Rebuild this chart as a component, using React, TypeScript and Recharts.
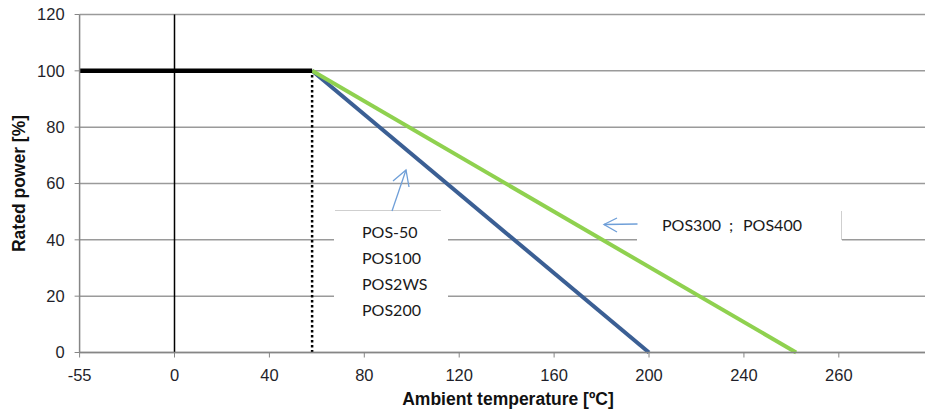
import {
  LineChart, Line, XAxis, YAxis, CartesianGrid, ReferenceLine, Customized,
} from 'recharts';

// category-style axis: labels sit at equal spacing, values in between are interpolated
const TICK_LABELS = [-55, 0, 40, 80, 120, 160, 200, 240, 260];
const Y_TICKS = [0, 20, 40, 60, 80, 100, 120];

const RATED_TEMPS = [-55, 58];
const RATED_POWER = [100, 100];
const SMALL_TEMPS = [58, 200];
const SMALL_POWER = [100, 0];
const LARGE_TEMPS = [58, 251];
const LARGE_POWER = [100, 0];
const KNEE_TEMP = 58;

const SMALL_MODELS = ['POS-50', 'POS100', 'POS2WS', 'POS200'];
const LARGE_MODELS = ['POS300', ';', 'POS400'];

const AXIS_GREY = '#868686';
const GRID_GREY = '#9a9a9a';
const BLUE = '#3b5f94';
const GREEN = '#8fd14f';
const ARROW = '#6f9fd8';
const TICK_FONT = "'Liberation Sans', Arial, sans-serif";
const NOTE_FONT = "Lato, 'Open Sans', sans-serif";

function toPos(t: number) {
  for (let i = 0; i < TICK_LABELS.length - 1; i++) {
    const a = TICK_LABELS[i];
    const b = TICK_LABELS[i + 1];
    if (t <= b) return i + (t - a) / (b - a);
  }
  return TICK_LABELS.length - 1;
}

const toRows = (temps: number[], power: number[]) =>
  temps.map((t, i) => ({ pos: toPos(t), power: power[i] }));

const ratedData = toRows(RATED_TEMPS, RATED_POWER);
const smallData = toRows(SMALL_TEMPS, SMALL_POWER);
const largeData = toRows(LARGE_TEMPS, LARGE_POWER);
const kneePos = toPos(KNEE_TEMP);

function Notes() {
  return (
    <g>
      {/* axis titles */}
      <text
        x={19}
        y={183.5}
        transform="rotate(-90 19 183.5)"
        textAnchor="middle"
        dominantBaseline="central"
        fontFamily={TICK_FONT}
        fontWeight="bold"
        fontSize={17.5}
        fill="#111"
      >
        Rated power [%]
      </text>
      <text
        x={508}
        y={399}
        textAnchor="middle"
        dominantBaseline="central"
        fontFamily={TICK_FONT}
        fontWeight="bold"
        fontSize={17.5}
        fill="#111"
      >
        Ambient temperature [ºC]
      </text>

      {/* left text box */}
      <rect x={334} y={211} width={114} height={121} fill="#fff" />
      <line x1={335} y1={210.5} x2={441} y2={210.5} stroke="#cfcfcf" strokeWidth={1} />
      {SMALL_MODELS.map((m, i) => (
        <text key={m} x={362} y={237.5 + i * 26} fontFamily={NOTE_FONT} fontSize={16} fill="#1a1a1a">
          {m}
        </text>
      ))}
      <g stroke={ARROW} strokeWidth={1.3} fill="none">
        <line x1={392} y1={211} x2={406} y2={170} />
        <polyline points="393,181 406,170 409,187" />
      </g>

      {/* right text box */}
      <rect x={637} y={211} width={205} height={31} fill="#fff" />
      <line x1={841.5} y1={211} x2={841.5} y2={240} stroke="#cfcfcf" strokeWidth={1} />
      <text x={662} y={230.5} fontFamily={NOTE_FONT} fontSize={16} fill="#1a1a1a">{LARGE_MODELS[0]}</text>
      <text x={729} y={230.5} fontFamily={NOTE_FONT} fontSize={16} fill="#1a1a1a">{LARGE_MODELS[1]}</text>
      <text x={743} y={230.5} fontFamily={NOTE_FONT} fontSize={16} fill="#1a1a1a">{LARGE_MODELS[2]}</text>
      <g stroke={ARROW} strokeWidth={1.3} fill="none">
        <line x1={637.5} y1={224} x2={604} y2={224.5} />
        <polyline points="617,218 604,224.5 617,232" />
      </g>
    </g>
  );
}

export default function App() {
  return (
    <div style={{ position: 'absolute', left: 0, top: 0, width: 925, height: 414, background: '#fff' }}>
      <LineChart
        width={925}
        height={414}
        margin={{ top: 14.5, right: 0, bottom: 21.5, left: 19.6 }}
      >
        <CartesianGrid vertical={false} stroke={GRID_GREY} strokeWidth={1.5} />
        <XAxis
          type="number"
          dataKey="pos"
          domain={[0, 8.908]}
          ticks={TICK_LABELS.map((_, i) => i)}
          tickFormatter={(v: number) => String(TICK_LABELS[v])}
          allowDataOverflow
          height={40}
          axisLine={{ stroke: AXIS_GREY, strokeWidth: 1.5 }}
          tickLine={{ stroke: AXIS_GREY }}
          tickSize={5}
          tickMargin={12}
          tick={{ fontSize: 16.5, fill: '#1f1f2a', fontFamily: TICK_FONT }}
        />
        <YAxis
          type="number"
          domain={[0, 120]}
          ticks={Y_TICKS}
          width={60}
          axisLine={{ stroke: AXIS_GREY, strokeWidth: 1.5 }}
          tickLine={{ stroke: AXIS_GREY }}
          tickSize={5}
          tickMargin={10}
          tick={{ fontSize: 16.5, fill: '#1f1f2a', fontFamily: TICK_FONT }}
        />
        <ReferenceLine x={toPos(0)} stroke="#000" strokeWidth={1.5} />
        <ReferenceLine
          segment={[{ x: kneePos, y: 0 }, { x: kneePos, y: 100 }]}
          stroke="#000"
          strokeWidth={2.5}
          strokeDasharray="2.5 2.5"
        />
        <Line data={smallData} dataKey="power" stroke={BLUE} strokeWidth={4} dot={false} isAnimationActive={false} />
        <Line data={largeData} dataKey="power" stroke={GREEN} strokeWidth={4} dot={false} isAnimationActive={false} />
        <Line data={ratedData} dataKey="power" stroke="#000" strokeWidth={4.5} dot={false} isAnimationActive={false} />
        <Customized component={Notes} />
      </LineChart>
    </div>
  );
}
